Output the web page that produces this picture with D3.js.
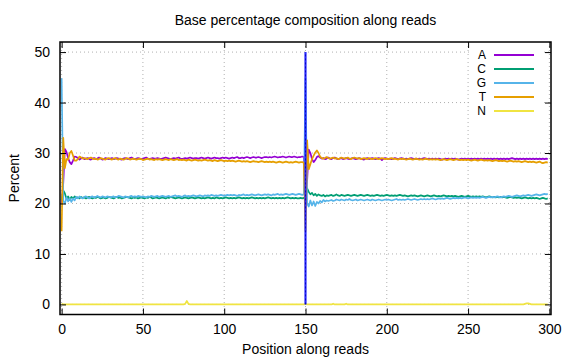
<!DOCTYPE html>
<html><head><meta charset="utf-8">
<script src="https://cdn.jsdelivr.net/npm/d3@7"></script>
<style>body{margin:0;background:#fff}svg{display:block;font-family:"Liberation Sans",Arial,sans-serif}</style>
</head><body><svg id="c" width="576" height="360"></svg>
<script>
const title = "Base percentage composition along reads";
const xLabel = "Position along reads";
const yLabel = "Percent";
const bases = ["A","C","G","T","N"];
const colors = ["#9400d3","#009e73","#56b4e9","#e69f00","#f0e442"];
const xTicks = [0,50,100,150,200,250,300];
const yTicks = [0,10,20,30,40,50];
const readBoundary = 150;
const boundaryRange = [0,50];

const A = [
20.0,24.0,30.8,30.2,29.0,28.2,27.8,28.5,29.3,29.2,29.0,28.7,28.9,29.1,28.8,
28.9,29.0,28.8,28.7,28.9,29.0,28.8,28.9,29.1,28.9,28.7,28.8,29.0,28.9,28.8,
28.9,29.0,28.8,28.9,29.0,28.9,28.8,28.7,28.9,29.0,28.9,28.8,29.0,29.1,28.9,
28.8,28.9,29.0,28.9,28.8,28.9,29.0,29.1,28.9,28.8,28.9,29.0,28.9,28.9,29.0,
28.9,28.8,28.9,29.0,29.1,29.0,28.9,28.8,28.9,29.0,28.9,29.0,29.1,28.9,28.8,
28.9,29.0,28.9,29.0,29.1,29.0,28.9,29.0,29.0,28.9,29.0,29.1,29.0,28.9,29.0,
29.1,29.0,28.9,29.0,29.1,29.0,29.0,28.9,29.0,29.1,29.0,29.1,29.0,28.9,29.0,
29.1,29.0,29.1,29.2,29.0,29.0,29.1,29.0,29.1,29.2,29.1,29.0,29.1,29.2,29.1,
29.1,29.2,29.1,29.0,29.1,29.2,29.2,29.1,29.2,29.1,29.2,29.3,29.2,29.1,29.2,
29.2,29.3,29.2,29.1,29.2,29.3,29.2,29.2,29.3,29.2,29.1,29.2,29.2,29.3,29.2,
20.0,24.5,30.7,30.0,28.8,28.2,28.6,29.2,29.4,29.1,28.9,29.0,28.8,28.9,29.1,
28.9,28.8,29.0,29.1,28.9,28.8,28.9,29.0,28.8,28.9,29.0,28.9,28.8,28.9,29.0,
28.9,28.8,28.9,29.0,28.9,28.8,28.7,28.9,29.0,28.8,28.9,29.0,28.9,28.8,28.9,
29.0,28.9,28.6,28.9,29.0,28.9,28.8,28.9,28.8,28.9,29.0,28.9,28.8,28.9,29.0,
28.9,28.8,28.9,28.8,28.9,29.0,28.9,28.8,28.9,28.8,28.9,28.8,28.9,29.0,28.9,
28.8,28.9,28.8,28.9,28.8,28.9,28.8,28.9,28.8,28.7,28.8,28.9,28.8,28.9,28.8,
28.9,28.8,28.9,28.8,28.7,28.8,28.9,28.8,28.9,28.8,28.9,28.8,28.9,28.8,28.9,
28.8,28.9,28.8,28.9,28.8,28.9,28.8,28.9,28.8,28.9,28.8,28.9,28.8,28.9,28.8,
28.9,28.8,28.9,28.8,28.9,28.8,28.9,29.0,28.9,28.8,28.9,28.8,28.9,28.8,28.9,
28.8,28.9,28.8,28.9,28.8,28.9,28.8,28.9,28.8,28.9,28.8,28.9,28.8,28.9,28.8];

const C = [
20.7,22.6,22.0,20.9,21.4,20.7,21.3,21.0,21.4,21.1,21.2,21.0,21.3,21.1,21.2,
21.0,21.2,21.3,21.1,21.0,21.2,21.1,21.3,21.2,21.0,21.1,21.2,21.0,21.1,21.3,
21.2,21.1,21.0,21.2,21.3,21.1,21.2,21.0,21.1,21.2,21.3,21.2,21.1,21.0,21.2,
21.1,21.2,21.0,21.1,21.2,21.1,21.0,21.2,21.1,21.3,21.2,21.0,21.1,21.2,21.1,
21.0,21.1,21.2,21.1,21.0,21.2,21.1,21.3,21.2,21.1,21.0,21.1,21.2,21.1,21.0,
21.1,21.2,21.1,21.0,21.1,21.2,21.1,21.0,21.1,21.2,21.1,21.0,21.1,21.0,21.1,
21.2,21.1,21.0,21.1,21.0,21.2,21.1,21.0,21.1,21.0,21.1,21.2,21.1,21.0,21.1,
21.0,21.1,21.0,21.1,21.2,21.1,21.0,21.1,21.0,21.1,21.0,21.1,21.2,21.1,21.0,
21.1,21.0,21.1,21.0,21.1,21.0,21.1,21.2,21.1,21.0,21.1,21.0,21.1,21.0,21.1,
21.0,21.1,21.0,21.1,21.2,21.1,21.0,21.1,21.0,21.1,21.0,21.0,21.1,21.0,21.1,
20.7,23.0,22.3,21.8,22.1,21.6,21.9,21.5,21.8,21.6,21.5,21.7,21.4,21.6,21.5,
21.6,21.7,21.5,21.6,21.8,21.6,21.5,21.7,21.6,21.5,21.6,21.7,21.6,21.5,21.6,
21.7,21.6,21.5,21.6,21.7,21.6,21.5,21.6,21.7,21.6,21.5,21.6,21.5,21.6,21.7,
21.6,21.5,21.6,21.5,21.6,21.7,21.6,21.5,21.6,21.5,21.6,21.5,21.6,21.7,21.6,
21.5,21.6,21.5,21.4,21.5,21.6,21.5,21.6,21.5,21.4,21.5,21.6,21.5,21.4,21.5,
21.6,21.5,21.4,21.5,21.6,21.5,21.4,21.5,21.4,21.5,21.6,21.5,21.4,21.5,21.4,
21.5,21.4,21.5,21.4,21.3,21.4,21.5,21.4,21.3,21.4,21.5,21.4,21.3,21.4,21.3,
21.4,21.3,21.4,21.3,21.4,21.3,21.2,21.3,21.4,21.3,21.2,21.3,21.2,21.3,21.2,
21.3,21.2,21.3,21.2,21.1,21.2,21.3,21.2,21.1,21.2,21.1,21.2,21.1,21.0,21.1,
21.2,21.1,21.0,21.1,21.0,21.1,21.0,21.1,21.0,20.9,21.0,21.1,21.0,20.9,21.0];

const G = [
44.8,20.5,20.0,21.2,20.4,21.0,20.3,21.0,20.6,21.3,21.0,21.4,21.2,21.0,21.3,
21.4,21.2,21.0,21.3,21.4,21.2,21.3,21.5,21.3,21.2,21.4,21.3,21.2,21.4,21.3,
21.2,21.3,21.4,21.2,21.3,21.5,21.4,21.3,21.2,21.4,21.3,21.2,21.4,21.5,21.3,
21.4,21.3,21.5,21.4,21.3,21.4,21.3,21.2,21.4,21.3,21.5,21.4,21.3,21.4,21.5,
21.3,21.4,21.5,21.4,21.3,21.4,21.5,21.3,21.4,21.5,21.6,21.4,21.5,21.4,21.3,
21.5,21.6,21.4,21.5,21.4,21.5,21.6,21.5,21.4,21.5,21.6,21.5,21.4,21.6,21.5,
21.6,21.5,21.7,21.6,21.5,21.6,21.5,21.6,21.7,21.6,21.5,21.6,21.7,21.6,21.7,
21.6,21.7,21.6,21.5,21.7,21.6,21.7,21.8,21.6,21.7,21.6,21.7,21.8,21.7,21.6,
21.7,21.8,21.7,21.6,21.7,21.8,21.7,21.8,21.7,21.6,21.8,21.7,21.8,21.9,21.7,
21.8,21.7,21.8,21.9,21.8,21.7,21.8,21.9,21.8,21.7,21.8,21.9,21.8,21.7,21.8,
44.8,20.0,19.4,20.6,19.6,20.4,19.5,20.3,20.0,20.5,20.2,20.7,20.4,20.6,20.5,
20.6,20.7,20.5,20.6,20.8,20.7,20.6,20.8,20.7,20.6,20.8,20.7,20.9,20.7,20.6,
20.7,20.8,20.6,20.7,20.8,20.7,20.6,20.7,20.8,20.7,20.6,20.8,20.7,20.6,20.7,
20.8,20.7,20.6,20.7,20.8,20.7,20.8,20.7,20.6,20.7,20.8,20.9,20.7,20.8,20.7,
20.8,20.7,20.8,20.9,20.8,20.7,20.8,20.9,20.8,20.7,20.8,20.9,20.8,20.9,20.8,
20.9,20.8,20.9,21.0,20.9,20.8,20.9,21.0,20.9,21.0,20.9,21.0,21.1,21.0,20.9,
21.0,21.1,21.0,21.1,21.0,21.1,21.0,21.1,21.2,21.1,21.0,21.1,21.2,21.1,21.2,
21.1,21.2,21.1,21.2,21.3,21.2,21.1,21.2,21.3,21.2,21.3,21.2,21.3,21.4,21.3,
21.2,21.3,21.4,21.3,21.4,21.5,21.4,21.3,21.4,21.5,21.6,21.5,21.4,21.5,21.6,
21.5,21.6,21.7,21.6,21.5,21.6,21.7,21.8,21.7,21.6,21.7,21.8,21.9,21.8,21.9];

const T = [
14.5,33.0,27.0,28.8,28.7,30.0,30.4,29.5,28.5,28.5,28.8,29.3,29.1,28.9,29.0,
28.9,28.8,29.0,29.1,28.9,28.8,28.9,28.7,28.8,29.0,28.9,28.8,28.7,28.9,29.0,
28.8,28.7,28.9,29.0,28.8,28.7,28.9,28.8,28.7,28.8,29.0,28.9,28.7,28.8,28.9,
28.8,28.7,28.8,28.9,28.8,28.6,28.7,28.8,28.9,28.7,28.8,28.7,28.6,28.8,28.7,
28.8,28.7,28.6,28.7,28.8,28.7,28.6,28.8,28.7,28.6,28.7,28.8,28.6,28.7,28.6,
28.7,28.6,28.5,28.7,28.6,28.5,28.6,28.7,28.6,28.5,28.6,28.5,28.6,28.7,28.6,
28.5,28.6,28.5,28.4,28.6,28.5,28.4,28.5,28.6,28.5,28.4,28.5,28.4,28.5,28.4,
28.5,28.4,28.3,28.4,28.5,28.4,28.3,28.4,28.3,28.4,28.3,28.2,28.3,28.4,28.3,
28.3,28.2,28.3,28.4,28.3,28.2,28.3,28.2,28.3,28.2,28.3,28.2,28.1,28.2,28.3,
28.2,28.1,28.2,28.3,28.2,28.1,28.2,28.1,28.2,28.3,28.2,28.1,28.2,28.2,28.1,
14.5,32.5,26.8,27.8,28.8,29.5,30.1,30.5,30.0,29.3,29.0,28.9,29.0,29.2,29.0,
28.9,29.0,29.1,28.9,29.0,28.8,28.9,29.1,29.0,28.9,29.0,29.1,28.9,28.8,29.0,
29.1,29.0,28.9,29.0,28.8,28.9,29.0,28.9,28.8,29.0,28.9,28.8,28.9,29.0,28.9,
28.8,28.9,29.0,28.9,28.8,28.9,28.8,28.9,29.0,28.8,28.9,28.8,28.7,28.9,28.8,
28.9,28.8,28.7,28.8,28.9,28.8,28.7,28.8,28.9,28.8,28.7,28.8,28.7,28.8,28.9,
28.8,28.7,28.8,28.7,28.8,28.7,28.8,28.7,28.6,28.7,28.8,28.7,28.6,28.7,28.8,
28.7,28.6,28.7,28.8,28.7,28.6,28.7,28.6,28.7,28.6,28.7,28.6,28.5,28.6,28.7,
28.6,28.5,28.6,28.7,28.6,28.5,28.6,28.5,28.6,28.5,28.4,28.5,28.6,28.5,28.4,
28.5,28.4,28.5,28.4,28.3,28.4,28.5,28.4,28.3,28.4,28.3,28.4,28.3,28.2,28.3,
28.4,28.3,28.2,28.3,28.2,28.3,28.2,28.1,28.2,28.3,28.1,28.0,28.1,28.2,28.1];

const N = [
0.1,0,0,0,0,0,0,0,0,0,0,0,0,0,0,
0,0,0,0,0,0,0,0,0,0,0,0,0,0,0,
0,0,0,0,0,0,0,0,0,0,0,0,0,0,0,
0,0,0,0,0,0,0,0,0,0,0,0,0,0,0,
0,0,0,0,0,0,0,0,0,0,0,0,0,0,0,
0,0.1,0.7,0.1,0,0,0,0,0,0,0,0,0,0,0,
0,0,0,0,0,0,0,0,0,0,0,0,0,0,0,
0,0,0,0,0,0,0,0,0,0,0,0,0,0,0,
0,0,0,0,0,0,0,0,0,0,0,0,0,0,0,
0,0,0,0,0,0,0,0,0,0,0,0,0,0,0,
0.1,0,0,0,0,0,0,0,0,0,0,0,0,0,0,
0,0,0.15,0,0,0,0,0,0,0,0.15,0,0,0,0,
0,0,0,0,0,0,0,0,0,0,0,0,0,0,0,
0,0,0,0,0,0,0,0,0,0,0,0,0,0,0,
0,0,0,0,0,0,0,0,0,0,0,0,0,0,0,
0,0,0,0,0,0,0,0,0,0,0,0,0,0,0,
0,0,0,0,0,0,0,0,0,0,0,0,0,0,0,
0,0,0,0,0,0,0,0,0,0,0,0,0,0,0,
0,0,0,0,0,0,0,0,0,0,0,0,0,0,0,
0.1,0.2,0.2,0.1,0,0,0,0,0,0,0,0,0,0,0];

const positions = d3.range(A.length);
const series = [A, C, G, T, N];

const svg = d3.select("#c");
const pL = 60, pR = 551, pT = 42, pB = 314.5;
const x = d3.scaleLinear().domain([-1, 301]).range([pL, pR]);
const y = d3.scaleLinear().domain([-2, 52]).range([pB, pT]);
const FS = 14;

// grid
const grid = svg.append("g").attr("stroke", "#b0b0b0").attr("stroke-width", 1).attr("stroke-dasharray", "1,3");
xTicks.forEach(t => grid.append("line").attr("x1", x(t)).attr("x2", x(t)).attr("y1", pT).attr("y2", pB));
yTicks.forEach(t => grid.append("line").attr("x1", pL).attr("x2", pR).attr("y1", y(t)).attr("y2", y(t)));

// data lines
const lineGen = d3.line().x((d, i) => x(positions[i])).y(d => y(d));
const drawOrder = [4, 0, 1, 2, 3];
drawOrder.forEach(k => {
  svg.append("path").datum(series[k]).attr("d", lineGen).attr("fill", "none")
    .attr("stroke", colors[k]).attr("stroke-width", 1.7).attr("stroke-linejoin", "round");
});

// read boundary marker
svg.append("line").attr("x1", x(readBoundary)).attr("x2", x(readBoundary))
  .attr("y1", y(boundaryRange[0])).attr("y2", y(boundaryRange[1]))
  .attr("stroke", "#2a2aff").attr("stroke-width", 2.2);
svg.append("line").attr("x1", x(readBoundary)).attr("x2", x(readBoundary))
  .attr("y1", y(boundaryRange[0])).attr("y2", y(boundaryRange[1]))
  .attr("stroke", "#0000b0").attr("stroke-width", 0.8).attr("stroke-dasharray", "2,2");

// legend
const lg = svg.append("g");
lg.append("rect").attr("x", 471).attr("y", 44).attr("width", 72).attr("height", 72).attr("fill", "#fff");
bases.forEach((b, i) => {
  const yy = 55 + i * 14;
  lg.append("text").attr("x", 486).attr("y", yy).attr("dy", "0.36em").attr("text-anchor", "end")
    .attr("fill", "#000").attr("font-size", 12).text(b);
  lg.append("line").attr("x1", 494).attr("x2", 534).attr("y1", yy).attr("y2", yy)
    .attr("stroke", colors[i]).attr("stroke-width", 2);
});

// axes with inward ticks
const ax = svg.append("g");
const axB = d3.axisBottom(x).tickValues(xTicks).tickSize(-6).tickPadding(10).tickFormat(d3.format("d"));
const axT = d3.axisTop(x).tickValues(xTicks).tickSize(-6).tickFormat("");
const axL = d3.axisLeft(y).tickValues(yTicks).tickSize(-6).tickPadding(10).tickFormat(d3.format("d"));
const axR = d3.axisRight(y).tickValues(yTicks).tickSize(-6).tickFormat("");
[[axB, `translate(0,${pB})`], [axT, `translate(0,${pT})`], [axL, `translate(${pL},0)`], [axR, `translate(${pR},0)`]]
  .forEach(([a, tr]) => {
    const g = ax.append("g").attr("transform", tr).call(a);
    g.select(".domain").remove();
    g.selectAll("line").attr("stroke", "#000").attr("stroke-width", 1);
    g.selectAll("text").attr("fill", "#000").attr("font-family", "Liberation Sans,Arial,sans-serif").attr("font-size", FS);
  });

svg.append("rect").attr("x", pL).attr("y", pT).attr("width", pR - pL).attr("height", pB - pT)
  .attr("fill", "none").attr("stroke", "#000").attr("stroke-width", 1.5);

svg.append("text").attr("x", (pL + pR) / 2).attr("y", 20).attr("dy", "0.35em").attr("text-anchor", "middle")
  .attr("font-size", FS).text(title);
svg.append("text").attr("x", (pL + pR) / 2).attr("y", 349).attr("dy", "0.35em").attr("text-anchor", "middle")
  .attr("font-size", FS).text(xLabel);
svg.append("text").attr("transform", `translate(14,${(pT + pB) / 2}) rotate(-90)`).attr("dy", "0.35em")
  .attr("text-anchor", "middle").attr("font-size", FS).text(yLabel);
</script></body></html>
